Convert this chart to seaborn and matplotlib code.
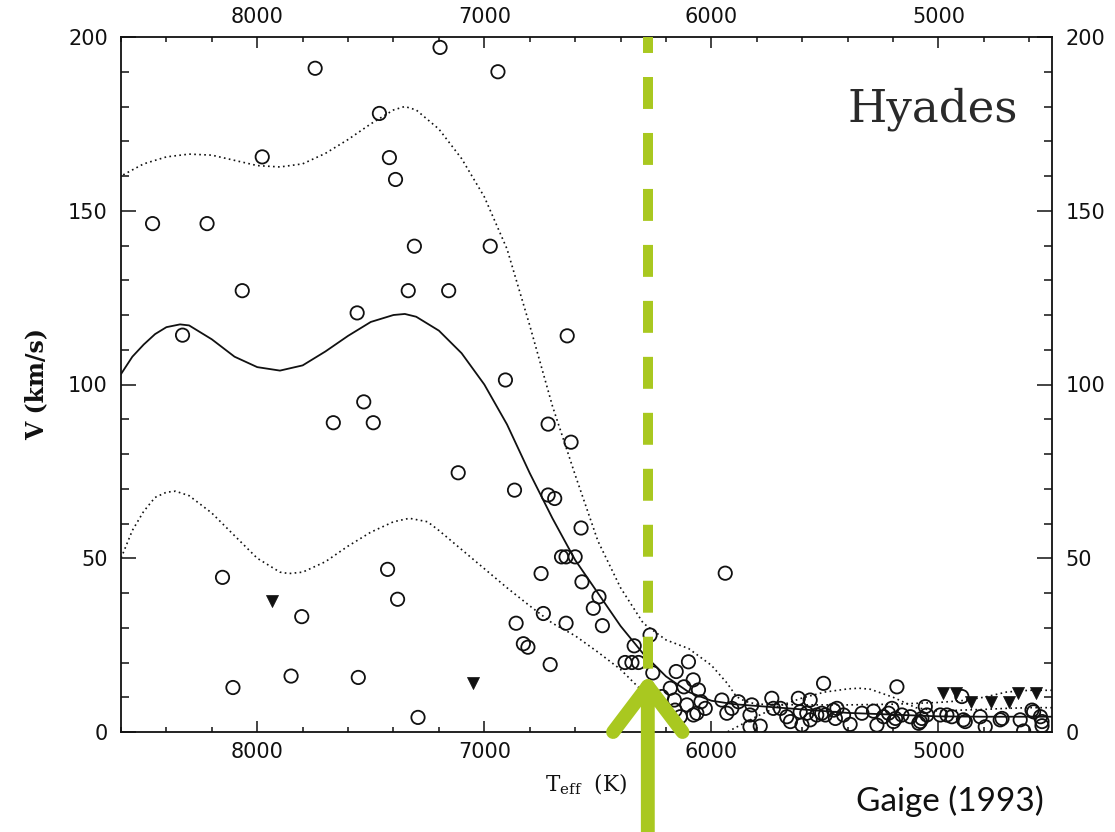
import numpy as np
import pandas as pd
import matplotlib
matplotlib.use("Agg")
import matplotlib.pyplot as plt
from matplotlib.ticker import MultipleLocator
import seaborn as sns

# ---------------- data ----------------
circ_teff = [7195, 7745, 6940, 7462, 7978, 7418, 7391, 8461, 8221, 7308, 6974, 8066, 7335, 7157,
             7560, 8329, 6635, 6907, 7531, 7665, 7489, 6719, 6618, 7115, 6867, 6719, 6690, 6574,
             6660, 6640, 6600, 6750, 6570, 6495, 6520, 6740, 6640, 6480, 6860, 6828, 6808, 6340,
             6270, 6710, 8153, 7426, 7382, 7804, 8107, 7851, 7555, 7292, 5939,
             6380, 6350, 6321, 6258, 6155, 6101, 6181, 6121, 6218, 6163, 6160, 6108, 6057, 6046,
             6079, 6137, 6027, 6080, 6064, 5954, 5910, 5881, 5932, 5822, 5830, 5785, 5734, 5727,
             5830, 5696, 5668, 5652, 5617, 5609, 5601, 5565, 5565, 5506, 5536, 5514, 5580, 5498,
             5462, 5454, 5447, 5418, 5389, 5337, 5286, 5271, 5242, 5220, 5205, 5189, 5198, 5183,
             5161, 5124, 5087, 5080, 5058, 5051, 5073, 4992, 4963, 4941, 4897, 4890, 4882, 4816,
             4794, 4728, 4720, 4640, 4625, 4588, 4581, 4551, 4544, 4544]
circ_v = [197, 191, 190, 178, 165.5, 165.3, 159, 146.3, 146.3, 139.8, 139.8, 127, 127, 127,
          120.6, 114.2, 114, 101.3, 95, 89, 89, 88.6, 83.4, 74.6, 69.6, 68.2, 67.2, 58.7,
          50.4, 50.4, 50.4, 45.6, 43.2, 38.9, 35.6, 34.1, 31.3, 30.6, 31.3, 25.4, 24.4, 24.8,
          27.9, 19.4, 44.5, 46.8, 38.2, 33.2, 12.8, 16.1, 15.7, 4.2, 45.7,
          20, 20, 20, 17, 17.4, 20.2, 12.6, 13, 10.2, 9.2, 6.3, 7.8, 12.1, 8.7,
          4.9, 4.4, 6.8, 15, 5.4, 9.2, 6.8, 8.7, 5.4, 7.8, 1.5, 1.7, 9.7, 6.8,
          4.9, 6.8, 4.4, 3, 9.7, 5.8, 2, 9.2, 3.5, 14, 4.9, 5.4, 5.4, 4.9,
          6.3, 3.9, 6.8, 4.9, 2.2, 5.4, 6, 2, 4.4, 5.4, 6.8, 3.9, 3, 13,
          4.9, 4.4, 2.5, 3, 7.3, 4.9, 3.9, 4.9, 4.9, 4.4, 10.2, 3.5, 3, 4.4,
          1.5, 3.5, 3.9, 3.5, 0.3, 6.3, 5.8, 4.4, 1.8, 3]

tri_teff = [7933, 7048, 4978, 4922, 4857, 4769, 4691, 4648, 4570]
tri_v = [37.7, 14.2, 11.1, 11.1, 8.7, 8.7, 8.7, 11.1, 11.1]

mean_teff = [8600, 8550, 8500, 8450, 8400, 8340, 8300, 8200, 8100, 8000, 7900, 7800, 7700,
             7600, 7500, 7400, 7350, 7300, 7200, 7100, 7000, 6900, 6800, 6700, 6600, 6500,
             6400, 6300, 6200, 6100, 6000, 5900, 5800, 5600, 5400, 5200, 5000, 4800, 4500]
mean_v = [103, 108, 111.5, 114.5, 116.5, 117.3, 117, 113, 108, 105, 104, 105.5, 109.5,
          114, 118, 120, 120.3, 119.5, 115.5, 109, 100, 88.5, 74.5, 61.5, 49.5, 40,
          30.5, 22.5, 16, 11.5, 9, 8, 7.5, 6.5, 5.5, 5, 4.5, 4.4, 4.4]

upper_teff = [8600, 8500, 8400, 8300, 8200, 8100, 8000, 7900, 7800, 7700, 7600, 7500, 7400,
              7350, 7300, 7200, 7100, 7000, 6900, 6800, 6700, 6600, 6500, 6400, 6300, 6200,
              6100, 6000, 5930, 5890, 5850, 5800, 5600, 5400, 5200, 5000, 4900, 4800, 4700,
              4600, 4500]
upper_v = [160, 163.5, 165.5, 166.3, 166, 164.5, 163, 162.6, 163.5, 166.5, 170.5, 175, 179,
           180, 179, 173.5, 165, 154, 139, 117, 93.8, 74, 55, 41.5, 31.3, 26.5,
           24, 19.2, 14, 10.2, 8.8, 8, 7.8, 7.8, 8, 8.5, 9, 10, 11.5,
           12, 12]

lower_teff = [8600, 8550, 8500, 8450, 8400, 8360, 8300, 8200, 8100, 8000, 7900, 7860, 7800,
              7700, 7600, 7500, 7400, 7330, 7250, 7200, 7100, 7000, 6900, 6800, 6700, 6600,
              6500, 6400, 6300, 6200, 6100, 6000, 5930, 5800, 5700, 5600, 5500, 5400, 5350,
              5300, 5200, 5100, 5000, 4900, 4800, 4700, 4600, 4500]
lower_v = [50, 58, 63.5, 67.5, 69, 69.3, 68, 63, 56.5, 50, 46, 45.6, 46,
           49, 53.5, 57.5, 60.5, 61.5, 60.5, 58, 52.5, 47, 41.5, 36.3, 31.3, 27.7,
           23, 18, 11.5, 4, -3, -4, 0, 4.5, 7.5, 9.8, 11.5, 12.4, 12.6,
           12.3, 10, 7, 6, 6.3, 6.5, 6.8, 7, 7]

x_major = [8000, 7000, 6000, 5000]
y_major = [0, 50, 100, 150, 200]
x_range = (8600, 4500)
y_range = (0, 200)
cut_teff = 6280       # green marker line
arrow_tip_v = 16.5

# ---------------- style ----------------
sns.set_style("ticks")
plt.rcParams["font.family"] = ["DejaVu Sans"]
plt.rcParams["mathtext.fontset"] = "dejavuserif"
plt.rcParams["lines.scale_dashes"] = False

GREEN = "#a9c820"
INK = "#111111"

fig = plt.figure(figsize=(11.15, 8.32), dpi=100)
fig.patch.set_facecolor("white")
ax = fig.add_axes([121 / 1115, 1 - 732 / 832, 931 / 1115, 695 / 832])
ax.set_facecolor("white")

circ = pd.DataFrame({"Teff": circ_teff, "V": circ_v})
tri = pd.DataFrame({"Teff": tri_teff, "V": tri_v})

sns.lineplot(x=mean_teff, y=mean_v, color=INK, lw=1.3, ax=ax, zorder=2)
sns.lineplot(x=upper_teff, y=upper_v, color=INK, lw=1.2, ax=ax, zorder=2,
             linestyle=(0, (1.2, 2.4)))
sns.lineplot(x=lower_teff, y=lower_v, color=INK, lw=1.2, ax=ax, zorder=2,
             linestyle=(0, (1.2, 2.4)))

sns.scatterplot(data=circ, x="Teff", y="V", marker="o", s=92, facecolor="none",
                edgecolor=INK, linewidth=1.3, ax=ax, zorder=3)
sns.scatterplot(data=tri, x="Teff", y="V", marker="v", s=75, color=INK,
                edgecolor=INK, linewidth=0.5, ax=ax, zorder=3)

# green dashed cut line (drawn from top down) and arrow
ax.plot([cut_teff, cut_teff], [y_range[1], arrow_tip_v], color=GREEN, lw=7.2,
        linestyle=(11.5, (23, 17.3)), solid_capstyle="butt", dash_capstyle="butt",
        zorder=5, clip_on=False)
ax.annotate("", xy=(cut_teff, arrow_tip_v), xytext=(0, -200), textcoords="offset points",
            annotation_clip=False, zorder=6,
            arrowprops=dict(arrowstyle="->,head_length=33,head_width=25", mutation_scale=1,
                            lw=10, color=GREEN, shrinkA=0, shrinkB=0,
                            capstyle="round", joinstyle="round"))

ax.set_xlim(*x_range)
ax.set_ylim(*y_range)
ax.set_xticks(x_major)
ax.set_yticks(y_major)
ax.xaxis.set_minor_locator(MultipleLocator(200))
ax.yaxis.set_minor_locator(MultipleLocator(10))
ax.tick_params(which="both", direction="in", top=True, right=True, bottom=True, left=True,
               labeltop=True, labelright=True, color=INK, width=1.1)
ax.tick_params(axis="x", which="major", length=8, pad=7.5, labelsize=15, labelcolor=INK)
ax.tick_params(axis="x", which="minor", length=3.8)
ax.tick_params(axis="y", which="major", length=11, pad=9.5, labelsize=15, labelcolor=INK)
ax.tick_params(axis="y", which="minor", length=6)
for sp in ax.spines.values():
    sp.set_visible(True)
    sp.set_color(INK)
    sp.set_linewidth(1.3)

ax.set_ylabel("V (km/s)", family="DejaVu Serif", fontsize=17, weight="bold",
              color=INK, labelpad=14)
ax.set_xlabel(r"T$_{\mathrm{eff}}$  (K)", family="DejaVu Serif", fontsize=15.5,
              color=INK, labelpad=7)

ax.text(0.9635, 0.8778, "Hyades", transform=ax.transAxes, ha="right", va="baseline",
        family="DejaVu Serif", fontsize=32.5, color="#2a2a2a")
fig.text(1044 / 1115, 1 - 810.7 / 832, "Gaige (1993)", ha="right", va="baseline",
         family="Lato", fontsize=24, color=INK)

fig.savefig("out.png", dpi=100, facecolor="white")
